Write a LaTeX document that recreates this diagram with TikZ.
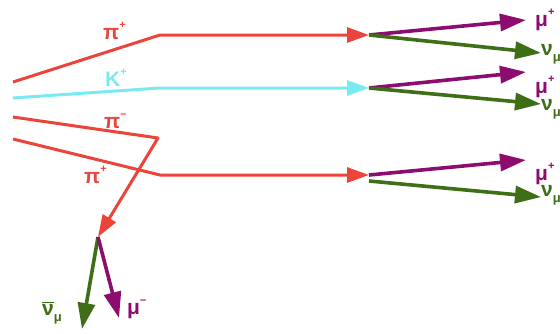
\documentclass[tikz,border=0pt]{standalone}
\usepackage{fontspec}
\setmainfont{Liberation Sans}
\usetikzlibrary{arrows.meta}
\definecolor{pion}{RGB}{235,68,58}
\definecolor{kaon}{RGB}{120,235,240}
\definecolor{muon}{RGB}{140,12,112}
\definecolor{nu}{RGB}{62,110,22}
% small raised charge sign and lowered flavour index
\newcommand{\chg}[1]{\raisebox{0.5em}{\fontsize{11}{11}\selectfont #1}}
\newcommand{\flav}[1]{\raisebox{-0.3em}{\fontsize{13}{13}\selectfont #1}}
\tikzset{
  track/.style={line width=3pt, line join=round},
  pitrack/.style={track, draw=pion},
  ktrack/.style={track, draw=kaon},
  mutrack/.style={line width=3.6pt, draw=muon},
  nutrack/.style={line width=3.6pt, draw=nu},
  redhead/.style={-{Triangle[length=22pt,width=15pt]}},
  lephead/.style={-{Triangle[length=26pt,width=17pt]}},
  lbl/.style={font=\bfseries\fontsize{21}{21}\selectfont, inner sep=0pt, anchor=base west},
}
\begin{document}
\begin{tikzpicture}[x=1pt,y=-1pt]
\useasboundingbox (0,0) rectangle (560,333);

% production point tracks and bends
\coordinate (p1s) at (13,82);
\coordinate (p1b) at (160,35);
\coordinate (v1) at (369,35);
\coordinate (ks) at (13,98);
\coordinate (kb) at (160,88);
\coordinate (v2) at (369,88);
\coordinate (pms) at (13,117);
\coordinate (pmb) at (158,138);
\coordinate (v4) at (98,237);
\coordinate (p3s) at (13,139);
\coordinate (p3b) at (160,175);
\coordinate (v3) at (369,175);

% decay product end points
\coordinate (m1) at (526,20);
\coordinate (n1) at (541,53);
\coordinate (m2) at (526,72);
\coordinate (n2) at (541,104);
\coordinate (m3) at (526,160);
\coordinate (n3a) at (369,181);
\coordinate (n3) at (541,197);
\coordinate (n4) at (82,329);
\coordinate (m4) at (119,318);

% parent tracks
\draw[pitrack, redhead] (p1s) -- (p1b) -- (v1);
\draw[ktrack, redhead] (ks) -- (kb) -- (v2);
\draw[pitrack, redhead] (p3s) -- (p3b) -- (v3);
\draw[pitrack, redhead] (pms) -- (pmb) -- (v4);

% decay products
\draw[mutrack, lephead] (v1) -- (m1);
\draw[nutrack, lephead] (v1) -- (n1);
\draw[mutrack, lephead] (v2) -- (m2);
\draw[nutrack, lephead] (v2) -- (n2);
\draw[mutrack, lephead] (v3) -- (m3);
\draw[nutrack, lephead] (n3a) -- (n3);
\draw[nutrack, lephead] (v4) -- (n4);
\draw[mutrack, lephead] (v4) -- (m4);

% particle labels
\node[lbl, text=pion] (lp1) at (103,39) {π\chg{+}};
\node[lbl, text=kaon] (lk) at (105,86) {K\chg{+}};
\node[lbl, text=pion] (lpm) at (104,128) {π\chg{–}};
\node[lbl, text=pion] (lp3) at (84,183) {π\chg{+}};

\node[lbl, text=muon] (lm1) at (535,26) {μ\chg{+}};
\node[lbl, text=nu] (ln1) at (541,55) {ν\flav{μ}};
\node[lbl, text=muon] (lm2) at (535,93) {μ\chg{+}};
\node[lbl, text=nu] (ln2) at (541,110) {ν\flav{μ}};
\node[lbl, text=muon] (lm3) at (535,180) {μ\chg{+}};
\node[lbl, text=nu] (ln3) at (541,196) {ν\flav{μ}};
\node[lbl, text=nu] (ln4) at (42,315) {$\overline{\hbox{ν}}$\flav{μ}};
\node[lbl, text=muon] (lm4) at (127,314) {μ\chg{–}};
\end{tikzpicture}
\end{document}
